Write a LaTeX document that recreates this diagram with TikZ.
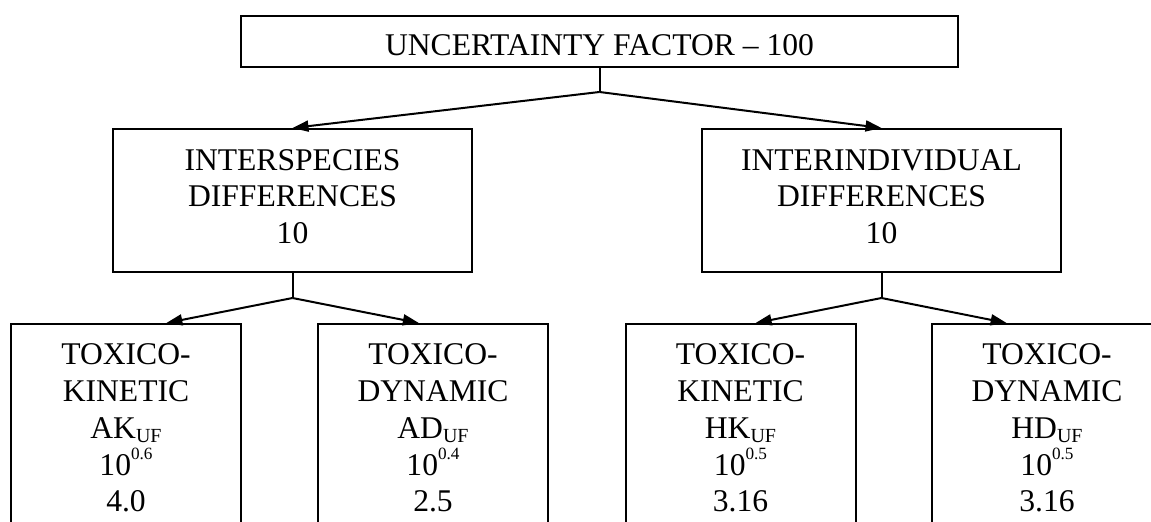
\documentclass[tikz,border=0pt]{standalone}
\usepackage{fontspec}
\setmainfont{Liberation Serif}
\usetikzlibrary{arrows.meta,calc}
\newcommand{\lowidx}[1]{\raisebox{-2pt}{\fontsize{10pt}{10pt}\selectfont #1}}
\newcommand{\highidx}[1]{\raisebox{7.6pt}{\fontsize{8.6pt}{8.6pt}\selectfont #1}}

\begin{document}
\begin{tikzpicture}[x=0.5pt,y=0.5pt]
	\tikzstyle{every node}+=[inner sep=0pt,font=\fontsize{15.8pt}{18.4pt}\selectfont]
	\tikzstyle{box}=[draw=black,line width=1pt,align=center]
	\tikzstyle{leafbox}=[box,anchor=north,minimum width=115pt,inner ysep=9.85pt]
	\tikzstyle{link}=[draw=black,line width=1pt]
	\tikzstyle{arrow}=[link,-{Triangle[length=8pt,width=5.5pt]}]
	\clip (0,0) rectangle (1151,-522);
	\node [box,minimum width=358.5pt,minimum height=25.5pt] (unc) at (599.5,-41.5) {UNCERTAINTY FACTOR – 100\rule{0pt}{14.5pt}};
	\node [box,minimum width=179.5pt,minimum height=71.5pt] (inter) at (292.5,-200.5) {INTERSPECIES\\DIFFERENCES\\10\rule[-4pt]{0pt}{4pt}};
	\node [box,minimum width=179.5pt,minimum height=71.5pt] (indiv) at (881.5,-200.5) {INTERINDIVIDUAL\\DIFFERENCES\\10\rule[-4pt]{0pt}{4pt}};
	\node [leafbox] (ak) at (126,-323) {TOXICO-\\KINETIC\\AK\lowidx{UF}\\10\highidx{0.6}\\4.0};
	\node [leafbox] (ad) at (433,-323) {TOXICO-\\DYNAMIC\\AD\lowidx{UF}\\10\highidx{0.4}\\2.5};
	\node [leafbox] (hk) at (740.5,-323) {TOXICO-\\KINETIC\\HK\lowidx{UF}\\10\highidx{0.5}\\3.16};
	\node [leafbox] (hd) at (1047,-323) {TOXICO-\\DYNAMIC\\HD\lowidx{UF}\\10\highidx{0.5}\\3.16};
	\coordinate (j0) at (599.5,-92);
	\coordinate (j1) at (292.5,-298);
	\coordinate (j2) at (881.5,-298);
	\draw [link] (unc.south) -- (j0);
	\draw [arrow] (j0) -- (inter.north);
	\draw [arrow] (j0) -- (indiv.north);
	\draw [link] (inter.south) -- (j1);
	\draw [arrow] (j1) -- ($(ak.north west)!0.674!(ak.north east)$);
	\draw [arrow] (j1) -- ($(ad.north west)!0.439!(ad.north east)$);
	\draw [link] (indiv.south) -- (j2);
	\draw [arrow] (j2) -- ($(hk.north west)!0.565!(hk.north east)$);
	\draw [arrow] (j2) -- ($(hd.north west)!0.326!(hd.north east)$);
\end{tikzpicture}
\end{document}
